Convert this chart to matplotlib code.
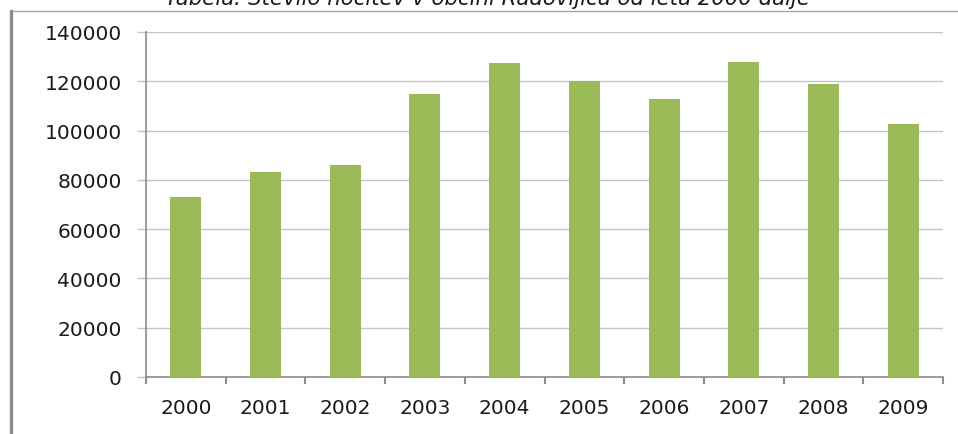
import numpy as np
import matplotlib
matplotlib.use('Agg')
from matplotlib import pyplot as plt
from matplotlib.patches import Rectangle

years = ['2000', '2001', '2002', '2003', '2004', '2005', '2006', '2007', '2008', '2009']
nights = [73000, 83000, 86000, 115000, 127500, 120000, 113000, 128000, 119000, 102500]
y_ticks = [0, 20000, 40000, 60000, 80000, 100000, 120000, 140000]
title = 'Tabela: Število nočitev v občini Radovljica od leta 2000 dalje'

W, H = 958, 435
fig = plt.figure(figsize=(W / 100, H / 100), dpi=100)
fig.patch.set_facecolor('white')

# outer chart frame (only left and top edges fall inside the picture)
fig.patches.append(Rectangle((10.5 / W, -0.1), 1.2, 1 - 12 / H + 0.1,
                             transform=fig.transFigure, fill=False,
                             edgecolor='#a6a6a6', linewidth=1.0))
fig.add_artist(plt.Line2D([10.5 / W, 10.5 / W], [0, 1 - 12 / H],
                          transform=fig.transFigure, color='#8c8c8c', linewidth=2.4))

# title sits mostly above the top edge, as in the reference
fig.text(487 / W, 1 - 5 / H, title, ha='center', va='baseline',
         fontsize=15.3, style='italic', color='#1a1a1a')

ax = fig.add_axes([146 / W, 1 - 378 / H, (943 - 146) / W, (378 - 33) / H])
x = np.arange(len(years))
ax.bar(x, nights, width=0.39, color='#9bbb59', zorder=3)

ax.set_xlim(-0.5, len(years) - 0.5)
ax.set_ylim(0, 140000)
ax.set_yticks(y_ticks)
ax.set_yticklabels([str(v) for v in y_ticks])
ax.set_xticks(x)
ax.set_xticklabels(years)
ax.set_xticks(np.arange(-0.5, len(years)), minor=True)

ax.grid(axis='y', color='#c4c4c4', linewidth=1.0, zorder=0)
for side in ('top', 'right'):
    ax.spines[side].set_visible(False)
for side in ('left', 'bottom'):
    ax.spines[side].set_color('#8c8c8c')
    ax.spines[side].set_linewidth(1.2)

ax.tick_params(axis='y', length=6.5, width=1, color='#c4c4c4', pad=11,
               labelsize=14.5, labelcolor='#1a1a1a')
ax.tick_params(axis='x', which='major', length=0, pad=15,
               labelsize=14.5, labelcolor='#1a1a1a')
ax.tick_params(axis='x', which='minor', length=5, width=1.5, color='#8c8c8c')

fig.savefig('out.png', dpi=100)
